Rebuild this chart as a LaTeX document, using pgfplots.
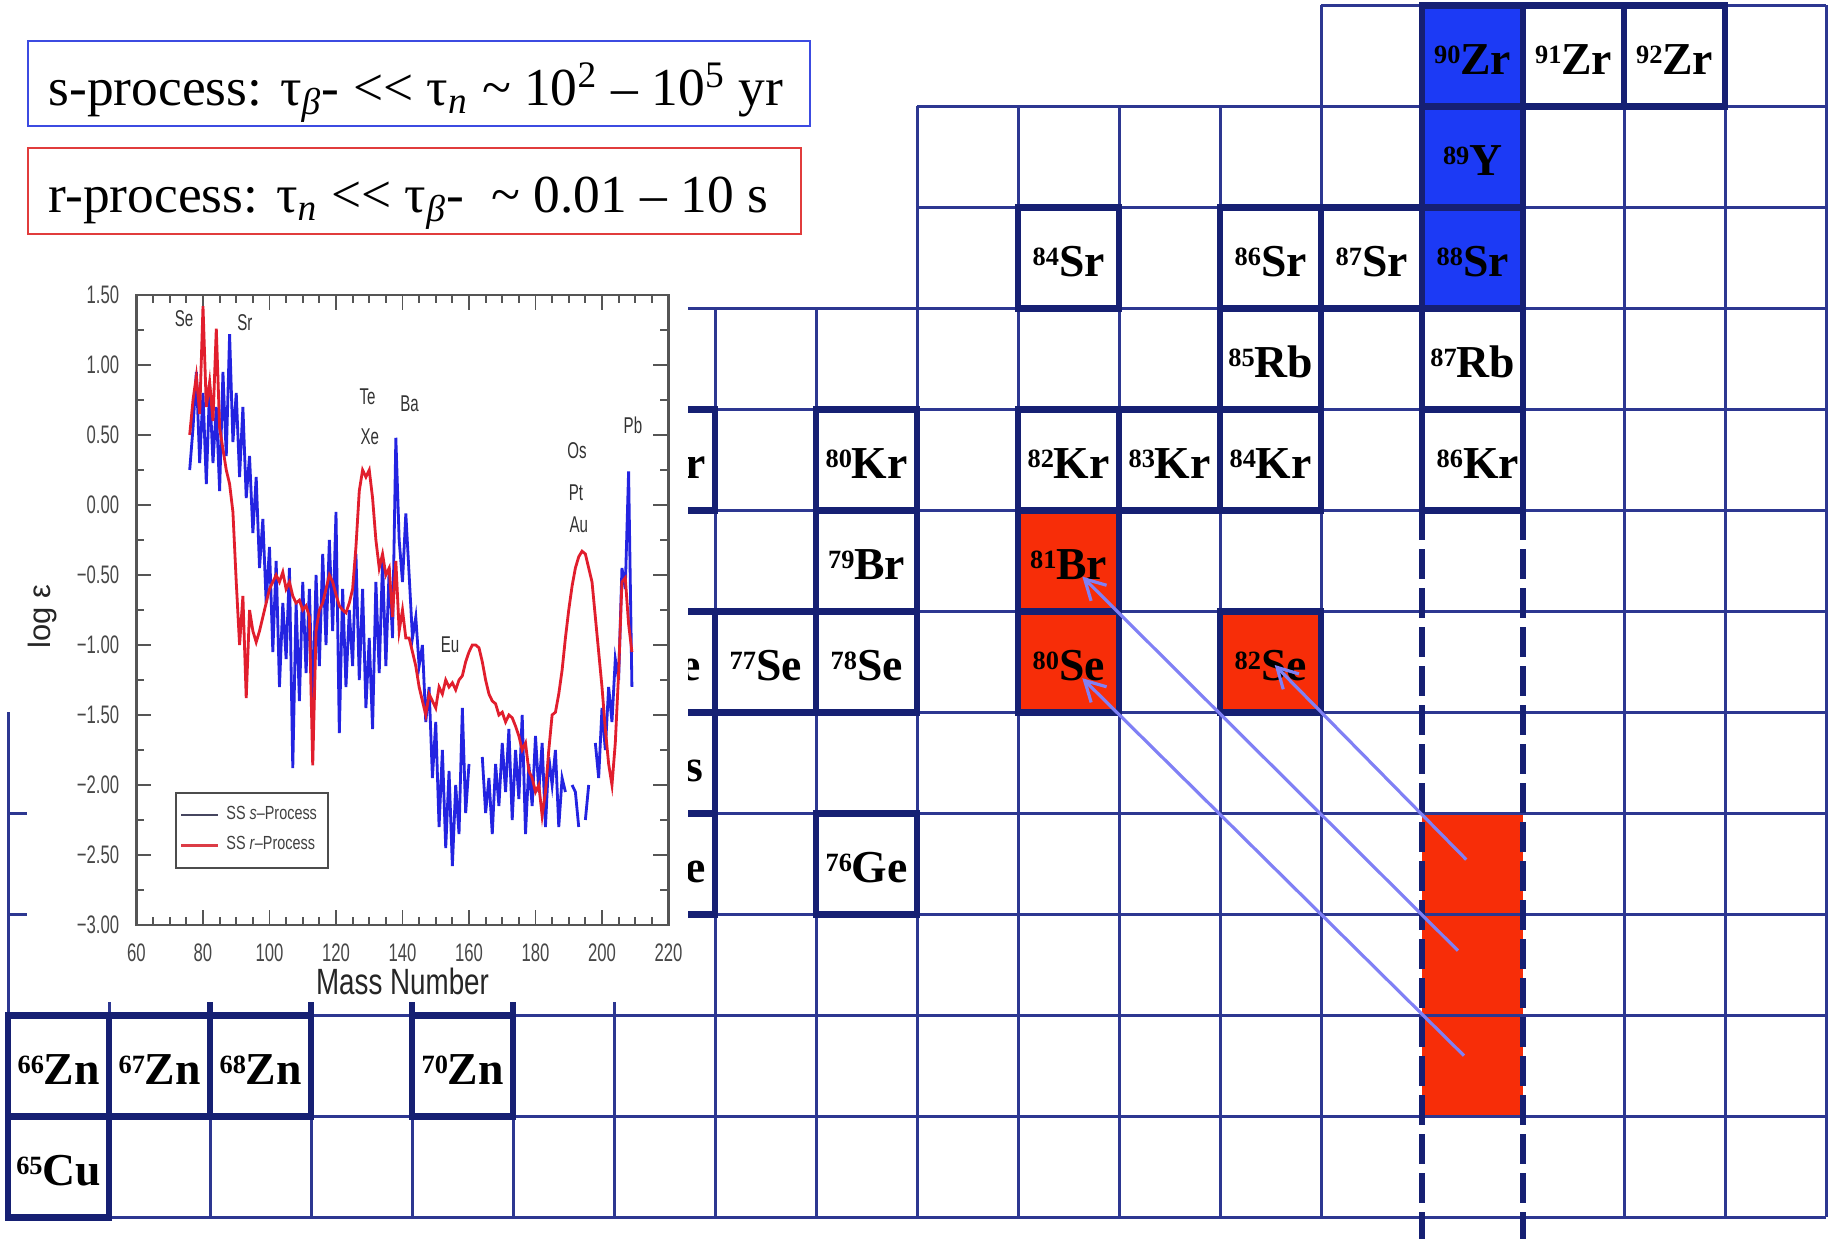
\documentclass[border=0pt]{standalone}
\usepackage{pgfplots}
\pgfplotsset{compat=1.18}
\usepackage{pgfplotstable}
\usepackage{fontspec}
\usetikzlibrary{arrows.meta}
\setmainfont{Liberation Serif}
\newfontfamily\insetfont[FakeStretch=0.66]{Liberation Sans}
\newfontfamily\labelfont[FakeStretch=0.76]{Liberation Sans}
\newfontfamily\legfont[FakeStretch=0.76]{Liberation Sans}
\newfontfamily\plainsans{Liberation Sans}

\definecolor{gridthin}{RGB}{45,55,145}
\definecolor{gridthick}{RGB}{22,32,115}
\definecolor{cellblue}{RGB}{28,58,245}
\definecolor{cellred}{RGB}{247,45,8}
\definecolor{decayarrow}{RGB}{128,128,245}
\definecolor{sproc}{RGB}{35,35,225}
\definecolor{rproc}{RGB}{225,30,45}
\definecolor{framegray}{RGB}{85,85,85}
\definecolor{sboxblue}{RGB}{60,75,225}
\definecolor{rboxred}{RGB}{225,60,60}

% solar-system s-process abundances (log eps vs mass number)
\pgfplotstableread{
A v
76 0.25
77 0.55
78 0.95
79 0.30
80 0.80
81 0.15
82 0.85
83 0.30
84 0.70
85 0.10
86 0.95
87 0.35
88 1.22
89 0.45
90 0.80
91 0.20
92 0.70
93 0.05
94 0.35
95 -0.20
96 0.20
97 -0.45
98 -0.10
99 -0.70
100 -0.30
101 -1.05
102 -0.40
103 -1.30
104 -0.70
105 -1.10
106 -0.45
107 -1.88
108 -0.70
109 -1.40
110 -0.55
111 -1.20
112 -0.60
113 -1.45
114 -0.50
115 -1.15
116 -0.35
117 -1.00
118 -0.25
119 -0.90
120 -0.05
121 -1.63
122 -0.60
123 -1.30
124 -0.75
125 -1.15
126 -0.35
127 -1.25
128 -0.60
129 -1.45
130 -0.95
131 -1.60
132 -0.55
133 -1.20
134 -0.40
135 -1.15
136 -0.45
137 -0.95
138 0.48
139 -0.25
140 -0.55
141 -0.06
142 -0.50
143 -0.95
144 -0.80
145 -1.15
146 -1.00
147 -1.55
148 -1.30
149 -1.95
150 -1.55
151 -2.30
152 -1.75
153 -2.45
154 -1.90
155 -2.58
156 -2.00
157 -2.35
158 -1.45
159 -2.20
160 -1.85
161 nan
162 nan
163 nan
164 -1.80
165 -2.20
166 -1.95
167 -2.35
168 -1.85
169 -2.15
170 -1.70
171 -2.05
172 -1.60
173 -2.25
174 -1.75
175 -2.10
176 -1.50
177 -2.35
178 -1.85
179 -2.15
180 -1.65
181 -2.05
182 -1.70
183 -2.30
184 -1.80
185 -2.00
186 -1.75
187 -2.30
188 -1.95
189 -2.05
190 nan
191 -2.00
192 -2.05
193 -2.30
194 nan
195 -2.25
196 -2.00
197 nan
198 -1.70
199 -1.95
200 -1.45
201 -1.75
202 -1.30
203 -1.55
204 -1.10
205 -1.25
206 -0.45
207 -0.60
208 0.24
209 -1.30
}\sdata

% solar-system r-process abundances
\pgfplotstableread{
A v
76 0.50
77 0.75
78 0.92
79 0.65
80 1.42
81 0.70
82 0.88
83 0.60
84 1.26
85 0.55
86 0.40
87 0.25
88 0.15
89 -0.05
90 -0.55
91 -1.00
92 -0.65
93 -1.38
94 -0.75
95 -0.90
96 -0.98
97 -0.90
98 -0.80
99 -0.70
100 -0.60
101 -0.55
102 -0.50
103 -0.55
104 -0.48
105 -0.60
106 -0.55
107 -0.65
108 -0.70
109 -0.68
110 -0.75
111 -0.72
112 -0.80
113 -1.86
114 -0.90
115 -0.75
116 -0.70
117 -0.60
118 -0.50
119 -0.55
120 -0.64
121 -0.72
122 -0.75
123 -0.77
124 -0.70
125 -0.60
126 -0.30
127 0.10
128 0.25
129 0.20
130 0.25
131 0.05
132 -0.25
133 -0.45
134 -0.35
135 -0.50
136 -0.45
137 -0.80
138 -0.40
139 -0.90
140 -0.75
141 -0.95
142 -0.95
143 -1.05
144 -1.15
145 -1.30
146 -1.40
147 -1.50
148 -1.35
149 -1.40
150 -1.45
151 -1.30
152 -1.35
153 -1.25
154 -1.30
155 -1.27
156 -1.32
157 -1.25
158 -1.22
159 -1.12
160 -1.05
161 -1.00
162 -1.00
163 -1.02
164 -1.12
165 -1.25
166 -1.35
167 -1.40
168 -1.42
169 -1.50
170 -1.48
171 -1.55
172 -1.50
173 -1.52
174 -1.58
175 -1.65
176 -1.75
177 -1.70
178 -1.90
179 -1.95
180 -2.05
181 -2.00
182 -2.22
183 -2.05
184 -1.75
185 -1.50
186 -1.48
187 -1.35
188 -1.18
189 -0.95
190 -0.75
191 -0.58
192 -0.45
193 -0.37
194 -0.33
195 -0.35
196 -0.45
197 -0.55
198 -0.80
199 -1.05
200 -1.30
201 -1.60
202 -1.85
203 -2.00
204 -1.70
205 -1.20
206 -0.55
207 -0.52
208 -0.85
209 -1.05
}\rdata

% nuclide label: mass number as superscript, element symbol
\newcommand{\nuc}[2]{\raisebox{0.115cm}{\fontsize{7.5}{8}\selectfont #1}\fontsize{13}{15}\selectfont #2}
\newcommand{\lab}[3]{\node[anchor=base, inner sep=0pt, font=\bfseries] at (axis cs:#1) {\nuc{#2}{#3}};}
% thick frame of a stable nuclide cell
\newcommand{\stab}[4]{\addplot[gridthick, line width=1.8pt] coordinates {(#1,#2) (#3,#2) (#3,#4) (#1,#4)} --cycle;}

\begin{document}
\begin{tikzpicture}
\useasboundingbox (0,0) rectangle (18.29,12.39);

% ---------------- chart of nuclides (N across, Z up) ----------------
\begin{axis}[
  at={(0,0)}, anchor=south west,
  width=18.29cm, height=12.39cm, scale only axis,
  xmin=35.9188, xmax=54.0277, ymin=28.7871, ymax=41.0545,
  hide axis, unbounded coords=jump,
]
% coloured cells
\addplot[fill=cellblue, draw=none] coordinates {(50,38) (51,38) (51,41) (50,41)} --cycle;
\addplot[fill=cellred, draw=none] coordinates {(46,34) (47,34) (47,36) (46,36)} --cycle;
\addplot[fill=cellred, draw=none] coordinates {(48,34) (49,34) (49,35) (48,35)} --cycle;
\addplot[fill=cellred, draw=none] coordinates {(50,30) (51,30) (51,33) (50,33)} --cycle;

% thin cell grid: vertical lines
\addplot[gridthin, line width=0.85pt] coordinates {
 (36,29) (36,34) (36,nan)
 (37,29) (37,34) (37,nan)
 (38,29) (38,38) (38,nan)
 (39,29) (39,38) (39,nan)
 (40,29) (40,38) (40,nan)
 (41,29) (41,38) (41,nan)
 (42,29) (42,38) (42,nan)
 (43,29) (43,38) (43,nan)
 (44,29) (44,38) (44,nan)
 (45,29) (45,40) (45,nan)
 (46,29) (46,40) (46,nan)
 (47,29) (47,40) (47,nan)
 (48,29) (48,40) (48,nan)
 (49,29) (49,41) (49,nan)
 (50,36) (50,41) (50,nan)
 (51,36) (51,41) (51,nan)
 (52,29) (52,41) (52,nan)
 (53,29) (53,41) (53,nan)
 (54,29) (54,41)
};
% thin cell grid: horizontal lines
\addplot[gridthin, line width=0.85pt] coordinates {
 (36,29) (54,29) (nan,29)
 (36,30) (54,30) (nan,30)
 (36,31) (54,31) (nan,31)
 (36,32) (54,32) (nan,32)
 (36,33) (54,33) (nan,33)
 (38,34) (54,34) (nan,34)
 (38,35) (54,35) (nan,35)
 (38,36) (54,36) (nan,36)
 (38,37) (54,37) (nan,37)
 (38,38) (54,38) (nan,38)
 (45,39) (54,39) (nan,39)
 (45,40) (54,40) (nan,40)
 (49,41) (54,41)
};

% stable nuclides
\stab{50}{40}{51}{41} \stab{51}{40}{52}{41} \stab{52}{40}{53}{41}
\stab{50}{39}{51}{40}
\stab{46}{38}{47}{39} \stab{48}{38}{49}{39} \stab{49}{38}{50}{39} \stab{50}{38}{51}{39}
\stab{48}{37}{49}{38} \stab{50}{37}{51}{38}
\stab{42}{36}{43}{37} \stab{44}{36}{45}{37} \stab{46}{36}{47}{37} \stab{47}{36}{48}{37}
\stab{48}{36}{49}{37} \stab{50}{36}{51}{37}
\stab{44}{35}{45}{36} \stab{46}{35}{47}{36}
\stab{40}{34}{41}{35} \stab{42}{34}{43}{35} \stab{43}{34}{44}{35} \stab{44}{34}{45}{35}
\stab{46}{34}{47}{35} \stab{48}{34}{49}{35}
\stab{42}{33}{43}{34}
\stab{38}{32}{39}{33} \stab{40}{32}{41}{33} \stab{41}{32}{42}{33} \stab{42}{32}{43}{33}
\stab{44}{32}{45}{33}
\stab{38}{31}{39}{32} \stab{40}{31}{41}{32}
\stab{36}{30}{37}{31} \stab{37}{30}{38}{31} \stab{38}{30}{39}{31} \stab{40}{30}{41}{31}
\stab{36}{29}{37}{30}

% magic neutron number N = 50 column
\addplot[gridthick, line width=1.8pt, dash pattern=on 0.3cm off 0.09cm] coordinates {(50,36) (50,28.7871)};
\addplot[gridthick, line width=1.8pt, dash pattern=on 0.3cm off 0.09cm] coordinates {(51,36) (51,28.7871)};

% nuclide names
\lab{50.5,40.315}{90}{Zr} \lab{51.5,40.315}{91}{Zr} \lab{52.5,40.315}{92}{Zr}
\lab{50.5,39.315}{89}{Y}
\lab{46.5,38.315}{84}{Sr} \lab{48.5,38.315}{86}{Sr} \lab{49.5,38.315}{87}{Sr} \lab{50.5,38.315}{88}{Sr}
\lab{48.5,37.315}{85}{Rb} \lab{50.5,37.315}{87}{Rb}
\lab{42.5,36.315}{78}{Kr} \lab{44.5,36.315}{80}{Kr} \lab{46.5,36.315}{82}{Kr} \lab{47.5,36.315}{83}{Kr}
\lab{48.5,36.315}{84}{Kr} \lab{50.55,36.315}{86}{Kr}
\lab{44.5,35.315}{79}{Br} \lab{46.5,35.315}{81}{Br}
\lab{42.5,34.315}{76}{Se} \lab{43.5,34.315}{77}{Se} \lab{44.5,34.315}{78}{Se}
\lab{46.5,34.315}{80}{Se} \lab{48.5,34.315}{82}{Se}
\lab{42.5,33.315}{75}{As}
\lab{42.5,32.315}{74}{Ge} \lab{44.5,32.315}{76}{Ge}
\lab{36.5,30.315}{66}{Zn} \lab{37.5,30.315}{67}{Zn} \lab{38.5,30.315}{68}{Zn} \lab{40.5,30.315}{70}{Zn}
\lab{36.5,29.315}{65}{Cu}

% beta-decay chains back to stability
\addplot[decayarrow, line width=0.9pt, -{Straight Barb[length=0.2cm,width=0.22cm]}] coordinates {(50.437,32.543) (48.54,34.47)};
\addplot[decayarrow, line width=0.9pt, -{Straight Barb[length=0.2cm,width=0.22cm]}] coordinates {(50.354,31.642) (46.635,35.345)};
\addplot[decayarrow, line width=0.9pt, -{Straight Barb[length=0.2cm,width=0.22cm]}] coordinates {(50.414,30.602) (46.635,34.339)};
\end{axis}

% backing for the abundance panel
\fill[white] (0.27,2.37) rectangle (6.88,9.59);

% ---------------- solar-system abundance panel ----------------
\begin{axis}[
  at={(1.365cm,3.14cm)}, anchor=south west,
  width=5.32cm, height=6.30cm, scale only axis,
  xmin=60, xmax=220, ymin=-3, ymax=1.5,
  xtick={60,80,100,120,140,160,180,200,220},
  ytick={-3,-2.5,-2,-1.5,-1,-0.5,0,0.5,1,1.5},
  yticklabels={−3.00,−2.50,−2.00,−1.50,−1.00,−0.50,0.00,0.50,1.00,1.50},
  minor x tick num=3, minor y tick num=1,
  tick align=inside, xtick pos=both, ytick pos=both,
  xticklabel pos=bottom, yticklabel pos=left,
  major tick length=0.15cm, minor tick length=0.08cm,
  axis line style={framegray, line width=0.6pt},
  every tick/.style={framegray, line width=0.5pt},
  ticklabel style={font={\insetfont\fontsize{7.2}{8}\selectfont}, text=black!72},
  /pgf/number format/assume math mode=true,
  xticklabel style={yshift=-0.06cm},
  yticklabel style={xshift=-0.05cm},
  xlabel={Mass Number}, ylabel={log ε},
  xlabel style={at={(axis description cs:0.5,0)}, anchor=base, yshift=-0.70cm,
    font={\labelfont\fontsize{10.4}{12}\selectfont}, text=black!85},
  ylabel style={at={(axis description cs:-0.176,0.49)}, anchor=center,
    font={\plainsans\fontsize{8.8}{10}\selectfont}, text=black!85},
  unbounded coords=jump,
  legend style={at={(rel axis cs:0.0724,0.0889)}, anchor=south west,
    draw=black!70, line width=0.7pt, fill=white,
    font={\legfont\fontsize{5.4}{6}\selectfont}, text=black!75,
    inner xsep=0.04cm, inner ysep=0.06cm, row sep=-0.025cm,
    cells={anchor=west}},
  legend image code/.code={\draw[#1] (0cm,0cm) -- (0.37cm,0cm);},
]
\addplot[sproc, line width=0.8pt, forget plot] table[x=A, y=v] {\sdata};
\addplot[rproc, line width=0.8pt, forget plot] table[x=A, y=v] {\rdata};
\addlegendimage{color={rgb,255:red,70;green,70;blue,95}, line width=0.6pt}
\addlegendentry{SS \textit{s}–Process}
\addlegendimage{color={rgb,255:red,220;green,60;blue,70}, line width=0.6pt}
\addlegendentry{SS \textit{r}–Process}

\begin{scope}[every node/.style={font={\insetfont\fontsize{6.5}{7}\selectfont}, text=black!80}]
\node at (axis cs:74.3,1.33) {Se};
\node at (axis cs:92.6,1.30) {Sr};
\node at (axis cs:129.5,0.77) {Te};
\node at (axis cs:130.2,0.49) {Xe};
\node at (axis cs:142.1,0.72) {Ba};
\node at (axis cs:154.3,-1.00) {Eu};
\node at (axis cs:192.5,0.39) {Os};
\node at (axis cs:192.2,0.09) {Pt};
\node at (axis cs:193.0,-0.14) {Au};
\node at (axis cs:209.3,0.57) {Pb};
\end{scope}
\end{axis}

% ---------------- process time scales ----------------
\draw[sboxblue, line width=0.6pt] (0.28,11.13) rectangle (8.10,11.98);
\node[anchor=base west, inner sep=0pt, font=\fontsize{15.2}{18}\selectfont] at (0.48,11.33)
  {s-process: τ\textsubscript{\textit{β}}- <{}< τ\textsubscript{\textit{n}} \textasciitilde{} 10\textsuperscript{2} – 10\textsuperscript{5} yr};
\draw[rboxred, line width=0.6pt] (0.28,10.05) rectangle (8.01,10.91);
\node[anchor=base west, inner sep=0pt, font=\fontsize{15.2}{18}\selectfont] at (0.48,10.26)
  {r-process: τ\textsubscript{\textit{n}} <{}< τ\textsubscript{\textit{β}}-\ \ \textasciitilde{} 0.01 – 10 s};
\end{tikzpicture}
\end{document}
